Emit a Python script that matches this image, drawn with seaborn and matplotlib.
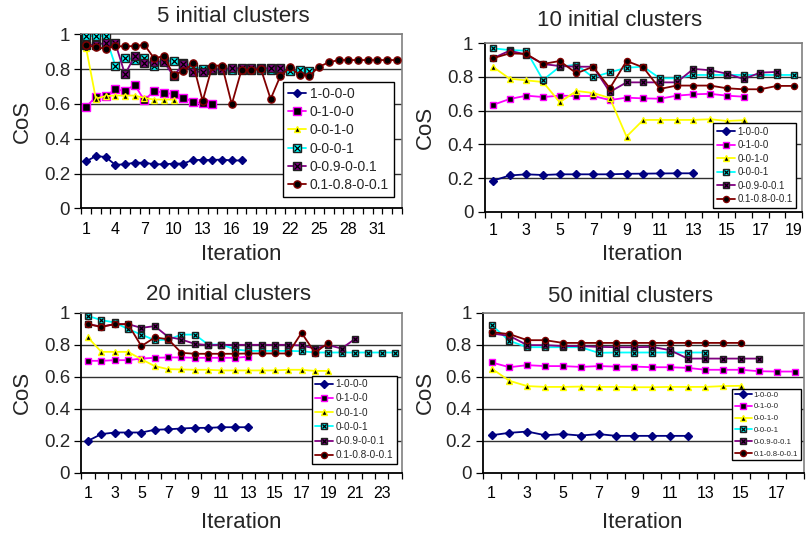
import numpy as np
import pandas as pd
import matplotlib
matplotlib.use("Agg")
import matplotlib.pyplot as plt
import seaborn as sns
from matplotlib.legend_handler import HandlerTuple

sns.set_theme(style="white")
plt.rcParams['font.family'] = ['Liberation Sans', 'DejaVu Sans']

series_names = ["1-0-0-0", "0-1-0-0", "0-0-1-0", "0-0-0-1", "0-0.9-0-0.1", "0.1-0.8-0-0.1"]
titles = ["5 initial clusters", "10 initial clusters", "20 initial clusters", "50 initial clusters"]

# 5 initial clusters
c5_s1 = [0.27, 0.30, 0.295, 0.25, 0.253, 0.262, 0.262, 0.253, 0.253, 0.257, 0.257, 0.278, 0.278, 0.278, 0.28, 0.275, 0.275]
c5_s2 = [0.584, 0.64, 0.644, 0.684, 0.674, 0.71, 0.62, 0.676, 0.663, 0.657, 0.636, 0.613, 0.603, 0.598]
c5_s3 = [0.92, 0.63, 0.645, 0.648, 0.648, 0.648, 0.634, 0.625, 0.625, 0.625]
c5_s4 = [0.99, 0.99, 0.99, 0.82, 0.865, 0.855, 0.862, 0.818, 0.845, 0.848, 0.837, 0.814, 0.80, 0.795,
         0.795, 0.795, 0.795, 0.795, 0.795, 0.795, 0.795, 0.787, 0.795, 0.79]
c5_s5 = [0.94, 0.94, 0.95, 0.95, 0.77, 0.875, 0.833, 0.843, 0.843, 0.76, 0.828, 0.785, 0.785, 0.80,
         0.80, 0.805, 0.805, 0.805, 0.805, 0.805, 0.805]
c5_s6 = [0.939, 0.925, 0.918, 0.933, 0.93, 0.933, 0.939, 0.862, 0.875, 0.766, 0.789, 0.833, 0.617,
         0.82, 0.82, 0.598, 0.795, 0.795, 0.80, 0.628, 0.76, 0.81, 0.766, 0.762, 0.814, 0.839,
         0.852, 0.852, 0.852, 0.852, 0.852, 0.852, 0.852]

# 10 initial clusters
c10_s1 = [0.184, 0.215, 0.222, 0.218, 0.222, 0.222, 0.222, 0.222, 0.225, 0.226, 0.227, 0.228, 0.228]
c10_s2 = [0.634, 0.669, 0.689, 0.681, 0.689, 0.687, 0.687, 0.663, 0.677, 0.673, 0.671, 0.689, 0.697,
          0.70, 0.689, 0.683]
c10_s3 = [0.861, 0.79, 0.78, 0.77, 0.65, 0.717, 0.705, 0.675, 0.446, 0.545, 0.545, 0.545, 0.545,
          0.549, 0.539, 0.543]
c10_s4 = [0.97, 0.96, 0.956, 0.782, 0.861, 0.873, 0.798, 0.828, 0.855, 0.861, 0.792, 0.792, 0.812,
          0.812, 0.812, 0.812, 0.812, 0.812, 0.812]
c10_s5 = [0.911, 0.956, 0.933, 0.877, 0.865, 0.861, 0.861, 0.711, 0.768, 0.768, 0.768, 0.768, 0.848,
          0.84, 0.82, 0.788, 0.826, 0.83]
c10_s6 = [0.911, 0.94, 0.937, 0.877, 0.895, 0.822, 0.861, 0.733, 0.895, 0.857, 0.729, 0.749, 0.749,
          0.749, 0.733, 0.727, 0.727, 0.747, 0.747]

# 20 initial clusters
c20_s1 = [0.198, 0.24, 0.25, 0.25, 0.25, 0.267, 0.27, 0.275, 0.279, 0.279, 0.283, 0.283, 0.283]
c20_s2 = [0.698, 0.698, 0.702, 0.702, 0.712, 0.717, 0.719, 0.719, 0.717, 0.717, 0.717, 0.717, 0.723]
c20_s3 = [0.844, 0.754, 0.754, 0.754, 0.708, 0.665, 0.646, 0.644, 0.642, 0.642, 0.638, 0.638, 0.638,
          0.638, 0.638, 0.642, 0.642, 0.635, 0.635]
c20_s4 = [0.979, 0.952, 0.938, 0.896, 0.862, 0.827, 0.83, 0.862, 0.862, 0.80, 0.80, 0.77, 0.76, 0.76,
          0.76, 0.76, 0.758, 0.75, 0.75, 0.75, 0.75, 0.75, 0.75, 0.75]
c20_s5 = [0.927, 0.912, 0.927, 0.927, 0.904, 0.915, 0.848, 0.831, 0.804, 0.796, 0.798, 0.798, 0.798,
          0.798, 0.798, 0.798, 0.794, 0.775, 0.796, 0.775, 0.835]
c20_s6 = [0.927, 0.91, 0.927, 0.927, 0.79, 0.844, 0.833, 0.748, 0.742, 0.742, 0.742, 0.742, 0.744,
          0.744, 0.744, 0.744, 0.873, 0.748, 0.81]

# 50 initial clusters
c50_s1 = [0.233, 0.248, 0.256, 0.233, 0.24, 0.231, 0.24, 0.229, 0.229, 0.229, 0.229, 0.229]
c50_s2 = [0.688, 0.658, 0.671, 0.665, 0.665, 0.66, 0.665, 0.662, 0.662, 0.658, 0.658, 0.654, 0.642,
          0.642, 0.642, 0.633, 0.631, 0.631]
c50_s3 = [0.65, 0.573, 0.54, 0.535, 0.535, 0.537, 0.535, 0.535, 0.533, 0.533, 0.535, 0.535, 0.535,
          0.54, 0.542]
c50_s4 = [0.921, 0.823, 0.783, 0.783, 0.783, 0.783, 0.748, 0.75, 0.75, 0.75, 0.75, 0.75, 0.75]
c50_s5 = [0.869, 0.854, 0.796, 0.796, 0.79, 0.79, 0.785, 0.783, 0.783, 0.785, 0.765, 0.712, 0.712,
          0.712, 0.712, 0.712]
c50_s6 = [0.877, 0.865, 0.827, 0.827, 0.81, 0.81, 0.81, 0.81, 0.81, 0.81, 0.81, 0.81, 0.81, 0.81, 0.81]

y_ticks = [0, 0.2, 0.4, 0.6, 0.8, 1]
y_ticklabels = ["0", "0.2", "0.4", "0.6", "0.8", "1"]
x_ticks_5 = [1, 4, 7, 10, 13, 16, 19, 22, 25, 28, 31]
x_ticks_10 = [1, 3, 5, 7, 9, 11, 13, 15, 17, 19]
x_ticks_20 = [1, 3, 5, 7, 9, 11, 13, 15, 17, 19, 21, 23]
x_ticks_50 = [1, 3, 5, 7, 9, 11, 13, 15, 17]

panels = [
    dict(data=[c5_s1, c5_s2, c5_s3, c5_s4, c5_s5, c5_s6], n=33, xticks=x_ticks_5,
         rect=(81.3, 34.3, 401.7, 208.3), ms=5.2, leg_fs=10.0, leg_anchor=(0.63, 0.725),
         leg_hl=1.3, leg_ls=0.3, title_xy=(233, 17), ylab=(22, 121), xlab=(241, 254), tick_pad=10),
    dict(data=[c10_s1, c10_s2, c10_s3, c10_s4, c10_s5, c10_s6], n=19, xticks=x_ticks_10,
         rect=(484.5, 43.3, 802.0, 211.7), ms=4.4, leg_fs=7.0, leg_anchor=(0.72, 0.525),
         leg_hl=1.9, leg_ls=0.36, title_xy=(620, 21), ylab=(425, 127), xlab=(642, 255), tick_pad=8),
    dict(data=[c20_s1, c20_s2, c20_s3, c20_s4, c20_s5, c20_s6], n=24, xticks=x_ticks_20,
         rect=(81.3, 312.5, 401.7, 472.5), ms=4.4, leg_fs=7.2, leg_anchor=(0.719, 0.605),
         leg_hl=1.8, leg_ls=0.42, title_xy=(228, 294), ylab=(22, 392), xlab=(241, 523), tick_pad=10),
    dict(data=[c50_s1, c50_s2, c50_s3, c50_s4, c50_s5, c50_s6], n=18, xticks=x_ticks_50,
         rect=(482.7, 312.5, 803.5, 472.5), ms=4.4, leg_fs=5.6, leg_anchor=(0.777, 0.525),
         leg_hl=2.2, leg_ls=0.56, title_xy=(630, 296), ylab=(425, 392), xlab=(642, 523), tick_pad=10),
]

colors = ["#000080", "#FF00FF", "#FFFF00", "#00FFFF", "#800080", "#800000"]
markers = ["D", "s", "^", "s", "s", "o"]
faces = ["#000080", "#000000", "#000000", "#00FFFF", "#800080", "#000000"]
size_scale = [0.85, 1.0, 0.9, 1.0, 1.0, 1.0]
overlay_x = [False, False, False, True, True, False]

W, H = 806, 536
fig = plt.figure(figsize=(W / 100, H / 100), dpi=100)
fig.patch.set_facecolor("white")

for pi, P in enumerate(panels):
    x0, ytop, x1, ybot = P["rect"]
    ax = fig.add_axes([x0 / W, 1 - ybot / H, (x1 - x0) / W, (ybot - ytop) / H])
    ax.set_facecolor("white")
    handles = []
    for si, vals in enumerate(P["data"]):
        df = pd.DataFrame({"Iteration": np.arange(1, len(vals) + 1), "CoS": vals})
        n_before = len(ax.lines)
        ms = P["ms"] * size_scale[si]
        sns.lineplot(data=df, x="Iteration", y="CoS", ax=ax, color=colors[si], linewidth=1.3,
                     marker=markers[si], markersize=ms, markerfacecolor=faces[si],
                     markeredgecolor=colors[si] if not overlay_x[si] else "#202020",
                     markeredgewidth=1.0, legend=False, zorder=3 + si)
        main = ax.lines[n_before]
        if overlay_x[si]:
            sns.lineplot(data=df, x="Iteration", y="CoS", ax=ax, color="black", linewidth=0,
                         marker="x", markersize=ms * 0.8, markeredgecolor="black",
                         markeredgewidth=0.9, legend=False, zorder=3 + si)
            handles.append((main, ax.lines[n_before + 1]))
        else:
            handles.append(main)

    n = P["n"]
    ax.set_xlim(0.5, n + 0.5)
    ax.set_ylim(0, 1)
    ax.set_yticks(y_ticks)
    ax.set_yticklabels(y_ticklabels)
    ax.set_xticks(P["xticks"])
    ax.set_xticklabels([str(t) for t in P["xticks"]])
    ax.set_xticks(np.arange(0.5, n + 1, 1.0), minor=True)
    ax.tick_params(axis="x", which="major", length=0, pad=P["tick_pad"], labelsize=11.5, colors="black")
    ax.tick_params(axis="x", which="minor", length=4, width=0.9, direction="out", color="black", bottom=True)
    ax.tick_params(axis="y", which="major", length=5, width=0.9, direction="out", pad=3,
                   labelsize=13.5, color="black", left=True)
    for gy in y_ticks[1:-1]:
        ax.axhline(gy, color="#303030", linewidth=1.0, zorder=1)
    ax.axhline(1.0, color="#808080", linewidth=1.2, zorder=1)
    for side in ["left", "bottom"]:
        ax.spines[side].set_color("black")
        ax.spines[side].set_linewidth(1.3)
    for side in ["top", "right"]:
        ax.spines[side].set_color("#808080")
        ax.spines[side].set_linewidth(1.2)
    ax.grid(False)

    ax.set_xlabel("Iteration", fontsize=16)
    ax.set_ylabel("CoS", fontsize=16)
    ax.xaxis.label.set_va("center")
    ax.yaxis.label.set_va("center")
    ax.yaxis.set_label_coords((P["ylab"][0] - x0) / (x1 - x0), (ybot - P["ylab"][1]) / (ybot - ytop))
    ax.xaxis.set_label_coords((P["xlab"][0] - x0) / (x1 - x0), (ybot - P["xlab"][1]) / (ybot - ytop))

    fig.text(P["title_xy"][0] / W, 1 - P["title_xy"][1] / H, titles[pi], fontsize=16,
             ha="center", va="center")

    leg = ax.legend(handles, series_names, loc="upper left", bbox_to_anchor=P["leg_anchor"],
                    fontsize=P["leg_fs"], handlelength=P["leg_hl"], handletextpad=0.25,
                    labelspacing=P["leg_ls"], borderpad=0.35, borderaxespad=0.0,
                    frameon=True, fancybox=False, framealpha=1.0, edgecolor="black",
                    handler_map={tuple: HandlerTuple(ndivide=1)})
    leg.get_frame().set_linewidth(1.0)
    leg.set_zorder(20)

fig.savefig("out.png", dpi=100, facecolor="white")
